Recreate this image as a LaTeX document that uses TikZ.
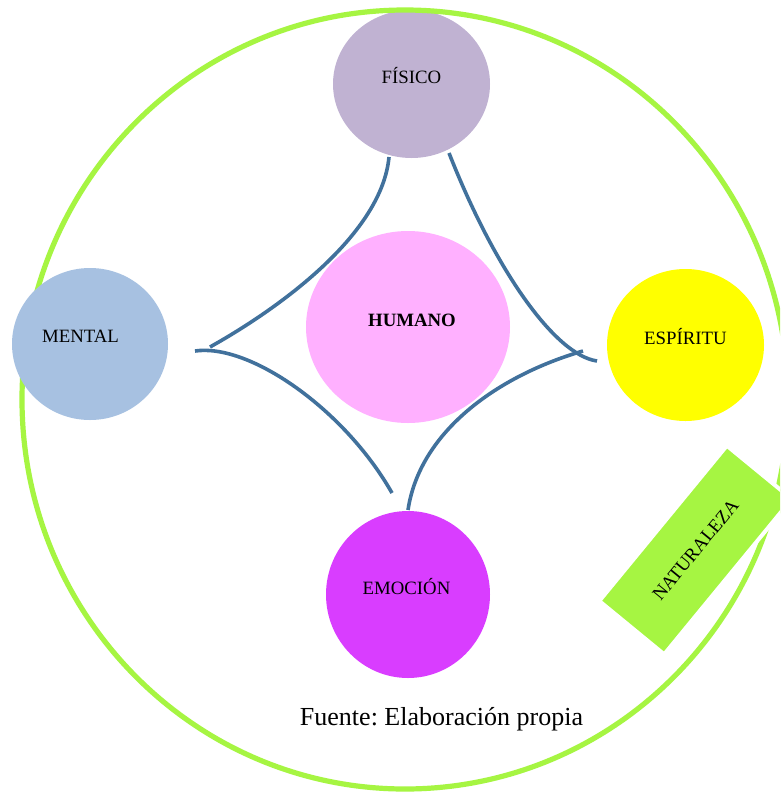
\documentclass[tikz,border=0pt]{standalone}
\usepackage{fontspec}
\setmainfont{Liberation Serif}
\usetikzlibrary{shapes.geometric}
\definecolor{fisicoC}{RGB}{192,178,210}
\definecolor{mentalC}{RGB}{167,193,225}
\definecolor{humanoC}{RGB}{255,176,255}
\definecolor{espirituC}{RGB}{255,255,0}
\definecolor{emocionC}{RGB}{217,61,255}
\definecolor{limeC}{RGB}{166,245,66}
\definecolor{linkC}{RGB}{65,113,156}
\tikzset{
  blob/.style={ellipse, fill=#1, draw=none, inner sep=0pt},
  lbl/.style={font=\fontsize{18.8}{22}\selectfont, yshift=8pt},
  link/.style={draw=linkC, line width=3.6pt},
  ring/.style={draw=limeC, line width=5.2pt},
}
\frenchspacing
\begin{document}
\begin{tikzpicture}[x=1pt,y=-1pt]
\useasboundingbox (0,0) rectangle (780,793);
\clip (0,0) rectangle (780,793);
\fill[white] (0,0) rectangle (780,793);

\node[blob=fisicoC, minimum width=157pt, minimum height=148pt,
  label={[lbl]center:FÍSICO}] (fisico) at (411.5,84) {};
\draw[ring] (405,399.5) ellipse [x radius=383, y radius=389.5];

\node[blob=mentalC, minimum width=156pt, minimum height=152pt,
  label={[lbl, xshift=-9.5pt]center:MENTAL}] (mental) at (90,344) {};
\node[blob=humanoC, minimum width=204pt, minimum height=192pt,
  label={[lbl, xshift=4pt, yshift=-1pt]center:\textbf{HUMANO}}] (humano) at (408,327) {};
\node[blob=espirituC, minimum width=157pt, minimum height=152pt,
  label={[lbl]center:ESPÍRITU}] (espiritu) at (685.5,345) {};
\node[blob=emocionC, minimum width=164pt, minimum height=167pt,
  label={[lbl, xshift=-1.5pt]center:EMOCIÓN}] (emocion) at (408,594.5) {};

\coordinate (a1) at (389,157);
\coordinate (a2) at (210,347);
\coordinate (b1) at (195,351);
\coordinate (b2) at (392,493);
\coordinate (c1) at (408,510);
\coordinate (c2) at (583,351);
\coordinate (d1) at (449,153);
\coordinate (d2) at (597,361);

\draw[link] (a1) .. controls (382,232) and (285,305) .. (a2);
\draw[link] (b1) .. controls (250,343) and (345,410) .. (b2);
\draw[link] (c1) .. controls (420,430) and (500,375) .. (c2);
\draw[link] (d1) .. controls (495,270) and (555,355) .. (d2);

\node[fill=limeC, draw=white, line width=4pt, rotate=50.6,
  minimum width=201pt, minimum height=84pt, inner sep=0pt,
  font=\fontsize{18.8}{22}\selectfont] (naturaleza) at (695.5,550) {NATURALEZA};

\node[font=\fontsize{26}{30}\selectfont] (fuente) at (441.5,719) {Fuente: Elaboración propia};
\end{tikzpicture}
\end{document}
